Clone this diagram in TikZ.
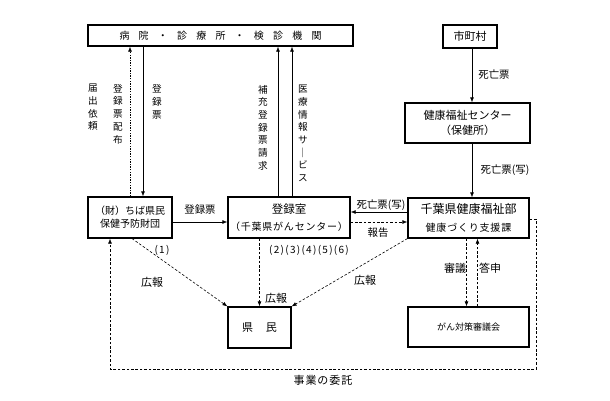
\documentclass[tikz,border=0pt]{standalone}
\usepackage{fontspec}
\setmainfont{Noto Sans CJK JP}
\newfontfamily\spacedfont{Noto Sans CJK JP}[LetterSpace=13]
\newfontfamily\lightspaced{Noto Sans CJK JP}[LetterSpace=8]
\usetikzlibrary{arrows.meta,calc}
\newcommand\gapx{\hspace{9.2pt}}
\begin{document}
\begin{tikzpicture}[x=1pt,y=-1pt,
  box/.style={draw, line width=1.1pt, inner sep=0pt, align=center, font=\fontsize{10}{13}\selectfont},
  arr/.style={-{Latex[length=5pt,width=3.8pt]}, line width=0.6pt},
  darr/.style={arr, dash pattern=on 2.6pt off 1.8pt},
  farr/.style={arr, dash pattern=on 1.4pt off 1.2pt},
  lbl/.style={inner sep=0pt, font=\fontsize{10.4}{12}\selectfont},
  vlbl/.style={inner sep=0pt, align=center, font=\fontsize{9.6}{12.7}\selectfont},
]
\fill[white] (0,0) rectangle (610,400);
\useasboundingbox (0,0) rectangle (610,400);

% boxes
\node[box, minimum width=265pt, minimum height=21pt] (top) at (220.5,35.5)
  {病\gapx 院\gapx ・\gapx 診\gapx 療\gapx 所\gapx ・\gapx 検\gapx 診\gapx 機\gapx 関};
\node[box, minimum width=54pt, minimum height=23pt, font=\fontsize{11}{13}\selectfont] (shi) at (470,36.5) {市町村};
\node[box, minimum width=125pt, minimum height=40pt, font=\fontsize{11}{15}\selectfont] (hc) at (467.5,123)
  {健康福祉センター\\[0pt]（保健所）};
\node[box, minimum width=121pt, minimum height=40pt] (bu) at (468.5,218)
  {{\fontsize{12}{14}\selectfont 千葉県健康福祉部}\\[5pt]{\lightspaced\fontsize{10}{11}\selectfont 健康づくり支援課}};
\node[box, minimum width=122pt, minimum height=41pt] (reg) at (289,217.5)
  {{\fontsize{11.5}{14}\selectfont 登録室}\\[4pt]{\lightspaced（千葉県がんセンター）}};
\node[box, minimum width=84pt, minimum height=41pt] (zai) at (130,217.5)
  {（財）ちば県民\\[0pt]保健予防財団};
\node[box, minimum width=121pt, minimum height=40pt, font=\fontsize{9}{11}\selectfont] (shin) at (468.5,327) {がん対策審議会};
\node[box, minimum width=63pt, minimum height=41pt, font=\fontsize{11}{13}\selectfont] (ken) at (259.5,327.5) {県\hspace{13pt}民};

% right column
\coordinate (a1) at ([xshift=2pt]shi.south);
\draw[arr] (a1) -- (a1 |- hc.north);
\coordinate (a2) at (a1 |- hc.south);
\draw[arr] (a2) -- (a2 |- bu.north);
\node[lbl] (l1) at (494,75) {死亡票};
\node[lbl] (l2) at (505,170) {死亡票(写)};

% left verticals
\coordinate (z1) at (zai.north);
\draw[farr] (z1) -- (z1 |- top.south);
\coordinate (z2) at ([xshift=13pt]zai.north);
\draw[arr] (z2 |- top.south) -- (z2);
\node[vlbl] (v1) at (93,107.5) {届\\出\\依\\頼};
\node[vlbl] (v2) at (118,114) {登\\録\\票\\配\\布};
\node[vlbl] (v3) at (157,102) {登\\録\\票};

% center verticals
\coordinate (r1) at ([xshift=-11pt]reg.north);
\draw[arr] (r1) -- (r1 |- top.south);
\coordinate (r2) at ([xshift=3pt]reg.north);
\draw[arr] (r2) -- (r2 |- top.south);
\node[vlbl] (v4) at (263,127.5) {補\\充\\登\\録\\票\\請\\求};
\node[vlbl] (v5) at (303,133.5) {医\\療\\情\\報\\サ\\｜\\ビ\\ス};

% horizontals
\coordinate (h1) at ([yshift=-4.5pt]zai.east);
\draw[arr] (h1) -- (h1 -| reg.west);
\node[lbl] (l3) at (200,210) {登録票};
\coordinate (h2) at ([yshift=6pt]bu.west);
\draw[arr] (h2) -- (h2 -| reg.east);
\node[lbl] (l4) at (381,205) {死亡票(写)};
\coordinate (h3) at ([yshift=-4pt]bu.west);
\draw[darr] (h3 -| reg.east) -- (h3);
\node[lbl] (l5) at (378,233) {報告};

% loop (事業の委託)
\coordinate (e1) at ([yshift=-1pt]bu.east);
\coordinate (e2) at (536,369);
\coordinate (e3) at ([xshift=-20pt]zai.south);
\draw[darr] (e1) -| (e2) -| (e3);
\node[lbl, font=\lightspaced\fontsize{11}{12}\selectfont] (l6) at (323,380) {事業の委託};

% 審議・答申
\coordinate (s1) at ([xshift=-2pt]bu.south);
\draw[darr] (s1) -- (s1 |- shin.north);
\coordinate (s2) at ([xshift=9pt]bu.south);
\draw[darr] (s2 |- shin.north) -- (s2);
\node[lbl, font=\fontsize{11}{12}\selectfont] (l7) at (455,268) {審議};
\node[lbl, font=\fontsize{11}{12}\selectfont] (l8) at (490,268) {答申};

% 広報
\draw[darr] ([xshift=2pt]zai.south) -- (ken.north west);
\draw[darr] (ken.north |- reg.south) -- (ken.north);
\draw[darr] (bu.south west) -- (ken.north east);
\node[lbl, font=\fontsize{11}{12}\selectfont] (l9) at (152,282) {広報};
\node[lbl, font=\fontsize{11}{12}\selectfont] (l10) at (276,298) {広報};
\node[lbl, font=\fontsize{11}{12}\selectfont] (l11) at (365,280) {広報};
\node[lbl, font=\spacedfont\fontsize{10}{12}\selectfont] (l12) at (162,250) {(1)};
\node[lbl, font=\spacedfont\fontsize{10}{12}\selectfont] (l13) at (309,250) {(2)(3)(4)(5)(6)};
\end{tikzpicture}
\end{document}
